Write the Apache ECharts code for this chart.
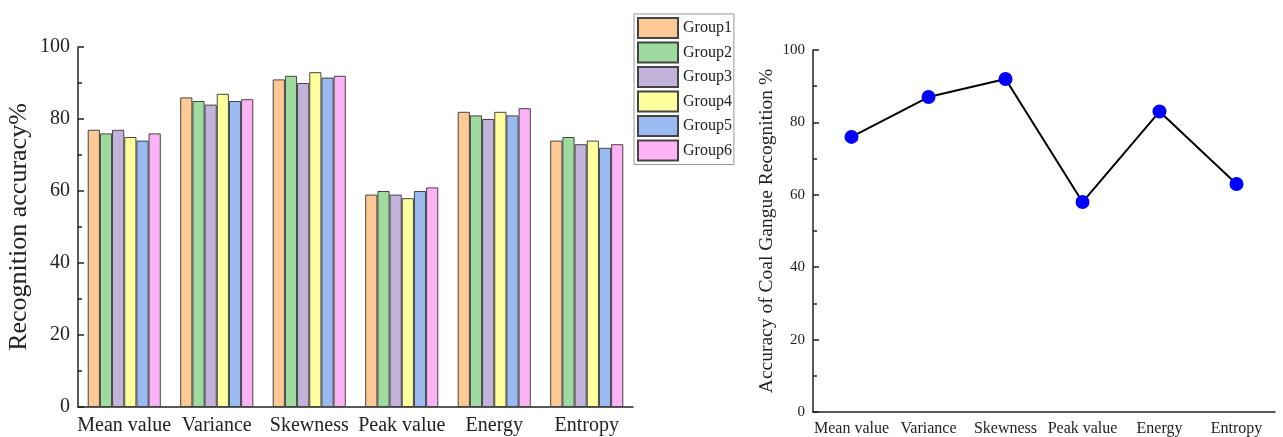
<!DOCTYPE html>
<html>
<head>
<meta charset="utf-8">
<script src="https://cdn.jsdelivr.net/npm/echarts@6/dist/echarts.min.js"></script>
<style>
  html, body { margin: 0; padding: 0; background: #fff; }
  #main { width: 1283px; height: 437px; }
</style>
</head>
<body>
<div id="main"></div>
<script>
// data
const features = ["Mean value", "Variance", "Skewness", "Peak value", "Energy", "Entropy"];
const groupNames = ["Group1", "Group2", "Group3", "Group4", "Group5", "Group6"];
const group1 = [77, 86, 91, 59, 82, 74];
const group2 = [76, 85, 92, 60, 81, 75];
const group3 = [77, 84, 90, 59, 80, 73];
const group4 = [75, 87, 93, 58, 82, 74];
const group5 = [74, 85, 91.5, 60, 81, 72];
const group6 = [76, 85.5, 92, 61, 83, 73];
const accuracy = [76, 87, 92, 58, 83, 63];
const yTicks = [0, 20, 40, 60, 80, 100];

const groupColors = ["#FFC995", "#9FDB9F", "#C3B3DA", "#FFFF9E", "#99BBF2", "#FFB3F7"];
const groupData = [group1, group2, group3, group4, group5, group6];
const font = "Liberation Serif, Times New Roman, serif";
const ink = "#222";

const chart = echarts.init(document.getElementById("main"));

const valueAxis = (grid, size, name, gap, nameSize) => ({
  type: "value",
  gridIndex: grid,
  min: yTicks[0],
  max: yTicks[yTicks.length - 1],
  interval: 20,
  name,
  nameLocation: "middle",
  nameGap: gap,
  nameTextStyle: { fontFamily: font, fontSize: nameSize, color: ink },
  axisLine: { show: true, lineStyle: { color: ink, width: 1.5 } },
  axisTick: { show: true, inside: true, length: 6, lineStyle: { color: ink, width: 1.5 } },
  minorTick: { show: true, splitNumber: 2, length: 4, lineStyle: { color: ink, width: 1.5 } },
  axisLabel: { fontFamily: font, fontSize: size, color: ink, margin: 8 },
  splitLine: { show: false },
});

chart.setOption({
  animation: false,
  grid: [
    { left: 78, top: 47, width: 555, bottom: 30 },
    { left: 813, top: 50, width: 462, bottom: 25 },
  ],
  legend: {
    data: groupNames,
    orient: "vertical",
    left: 634,
    top: 14,
    icon: "rect",
    itemWidth: 40,
    itemHeight: 20,
    itemGap: 2.5,
    padding: [3, 2, 3, 3],
    borderColor: "#999",
    borderWidth: 1,
    textStyle: { fontFamily: font, fontSize: 16, color: ink },
  },
  xAxis: [
    {
      type: "category", gridIndex: 0, data: features,
      axisLine: { lineStyle: { color: ink, width: 1.5 } },
      axisTick: { inside: true, length: 6, lineStyle: { color: ink, width: 1.5 } },
      axisLabel: { fontFamily: font, fontSize: 20, color: ink, margin: 9, interval: 0 },
    },
    {
      type: "category", gridIndex: 0, data: features, position: "bottom",
      axisLine: { show: false },
      axisTick: { inside: true, length: 3, alignWithLabel: true, lineStyle: { color: ink, width: 1.5 } },
      axisLabel: { show: false },
    },
    {
      type: "category", gridIndex: 1, data: features,
      axisLine: { lineStyle: { color: ink, width: 1.5 } },
      axisTick: { inside: true, length: 6, alignWithLabel: true, lineStyle: { color: ink, width: 1.5 } },
      axisLabel: { fontFamily: font, fontSize: 16, color: ink, margin: 9, interval: 0 },
    },
    {
      type: "category", gridIndex: 1, data: features, position: "bottom",
      axisLine: { show: false },
      axisTick: { inside: true, length: 3, lineStyle: { color: ink, width: 1.5 } },
      axisLabel: { show: false },
    },
  ],
  yAxis: [
    valueAxis(0, 20, "Recognition accuracy%", 46, 26),
    valueAxis(1, 15, "Accuracy of Coal Gangue Recognition %", 36, 19.5),
  ],
  series: [
    ...groupNames.map((name, i) => ({
      name,
      type: "bar",
      xAxisIndex: 0,
      yAxisIndex: 0,
      data: groupData[i],
      barGap: "0%",
      barCategoryGap: "21%",
      itemStyle: { color: groupColors[i], borderColor: "#444", borderWidth: 1 },
    })),
    {
      name: "Accuracy",
      type: "line",
      xAxisIndex: 2,
      yAxisIndex: 1,
      data: accuracy,
      symbol: "circle",
      symbolSize: 14,
      lineStyle: { color: "#000", width: 2 },
      itemStyle: { color: "#0000FF" },
    },
  ],
});
</script>
</body>
</html>
